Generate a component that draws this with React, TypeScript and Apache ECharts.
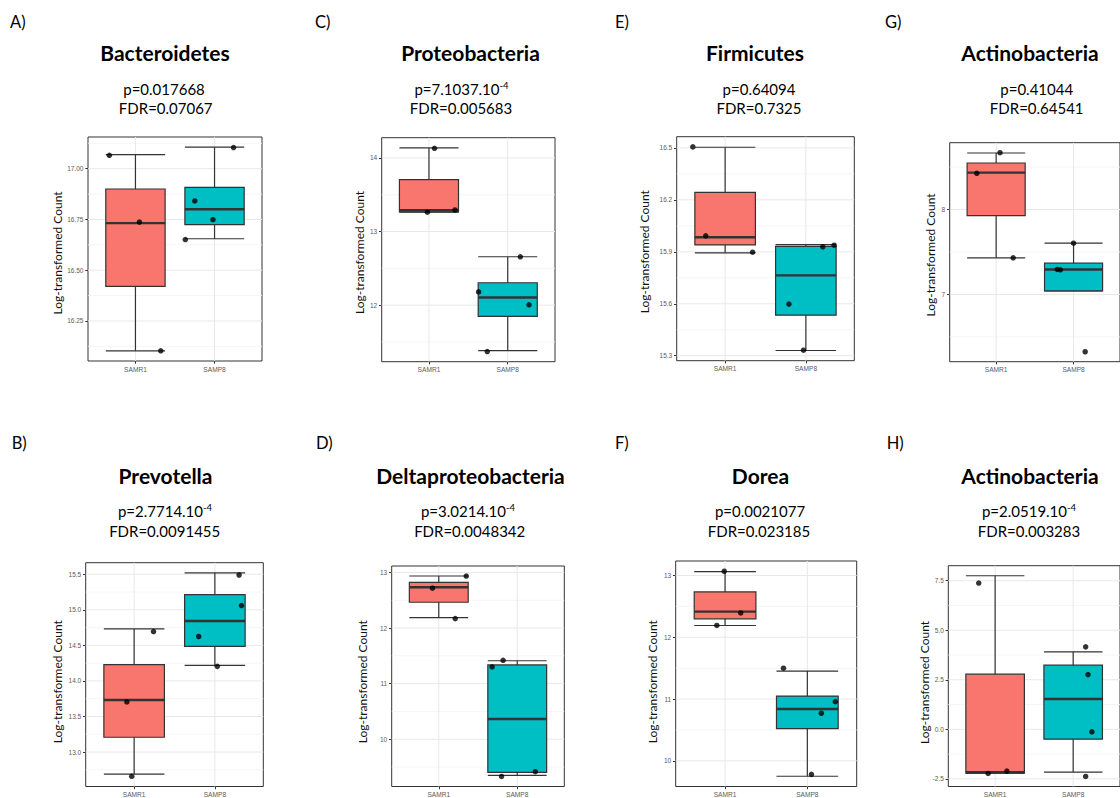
import React, { useEffect, useRef } from "react";
import * as echarts from "echarts";

const groups = ["SAMR1", "SAMP8"];
const groupFills = ["#F8766D", "#00BFC4"];
const panelLetters = ["A)", "B)", "C)", "D)", "E)", "F)", "G)", "H)"];
const taxa = ["Bacteroidetes", "Prevotella", "Proteobacteria", "Deltaproteobacteria", "Firmicutes", "Dorea", "Actinobacteria", "Actinobacteria"];
const pMantissa = ["p=0.017668", "p=2.7714.10", "p=7.1037.10", "p=3.0214.10", "p=0.64094", "p=0.0021077", "p=0.41044", "p=2.0519.10"];
const pExponent = ["", "-4", "-4", "-4", "", "", "", "-4"];
const fdrLabels = ["FDR=0.07067", "FDR=0.0091455", "FDR=0.005683", "FDR=0.0048342", "FDR=0.7325", "FDR=0.023185", "FDR=0.64541", "FDR=0.003283"];
const tickSteps = [0.25, 0.5, 1, 1, 0.3, 1, 1, 2.5];
const tickDecimals = [2, 1, 0, 0, 1, 0, 0, 1];
const yTitle = "Log-transformed Count";

// [lower whisker, Q1, median, Q3, upper whisker] for SAMR1 then SAMP8
const boxesA = [[16.103, 16.42, 16.732, 16.9, 17.069], [16.655, 16.725, 16.8, 16.908, 17.106]];
const boxesB = [[12.69, 13.208, 13.732, 14.228, 14.732], [14.218, 14.486, 14.843, 15.214, 15.52]];
const boxesC = [[13.262, 13.266, 13.289, 13.706, 14.136], [11.381, 11.847, 12.104, 12.304, 12.657]];
const boxesD = [[12.188, 12.464, 12.735, 12.823, 12.936], [9.35, 9.404, 10.363, 11.336, 11.412]];
const boxesE = [[15.894, 15.94, 15.984, 16.243, 16.504], [15.33, 15.534, 15.764, 15.931, 15.942]];
const boxesF = [[12.191, 12.298, 12.415, 12.734, 13.064], [9.75, 10.52, 10.84, 11.048, 11.453]];
const boxesG = [[7.431, 7.929, 8.435, 8.548, 8.666], [7.042, 7.042, 7.294, 7.368, 7.604]];
const boxesH = [[-2.21, -2.21, -2.166, 2.784, 7.75], [-2.16, -0.5, 1.53, 3.235, 3.912]];

// jittered observations [x position (1 = SAMR1, 2 = SAMP8), value]
const pointsA = [[0.67, 17.066], [1.05, 16.737], [1.32, 16.103], [2.24, 17.104], [1.75, 16.841], [1.98, 16.749], [1.63, 16.651]];
const pointsB = [[1.24, 14.695], [0.91, 13.704], [0.97, 12.658], [2.3, 15.49], [2.33, 15.06], [1.8, 14.625], [2.03, 14.205]];
const pointsC = [[1.07, 14.13], [0.98, 13.262], [1.33, 13.293], [2.16, 12.657], [1.63, 12.18], [2.27, 12.005], [1.74, 11.37]];
const pointsD = [[1.35, 12.936], [0.92, 12.717], [1.21, 12.17], [1.82, 11.42], [1.68, 11.3], [2.23, 9.416], [1.8, 9.33]];
const pointsE = [[0.6, 16.506], [0.76, 15.992], [1.34, 15.898], [2.21, 15.929], [2.35, 15.938], [1.79, 15.598], [1.97, 15.332]];
const pointsF = [[0.99, 13.069], [1.19, 12.394], [0.9, 12.191], [1.71, 11.5], [2.34, 10.958], [2.17, 10.77], [2.05, 9.78]];
const pointsG = [[1.05, 8.67], [0.75, 8.427], [1.22, 7.431], [2.0, 7.604], [1.79, 7.294], [1.83, 7.29], [2.15, 6.325]];
const pointsH = [[0.79, 7.38], [1.15, -2.11], [0.91, -2.23], [2.16, 4.16], [2.19, 2.76], [2.24, -0.13], [2.16, -2.38]];

const panelBoxes = [boxesA, boxesB, boxesC, boxesD, boxesE, boxesF, boxesG, boxesH];
const panelPoints = [pointsA, pointsB, pointsC, pointsD, pointsE, pointsF, pointsG, pointsH];

// layout: plot rectangle [left, top, width, height]
const plotRects = [
  [88, 137, 174, 224],
  [85.7, 562.7, 177.6, 225.6],
  [381.7, 137.7, 173.3, 224],
  [391.7, 566, 172.6, 223.3],
  [676.7, 136.7, 177.6, 224],
  [675.7, 561, 181, 228],
  [949.7, 142.7, 174.5, 219],
  [948.3, 565.7, 177.5, 222.6],
];
// text layout: [labelX, labelY, titleX, titleY, pX, pY, fdrX, fdrY, yTitleX, yTitleY]
const textPos = [
  [10, 21.5, 165, 52, 164, 89, 165.7, 107.5, 57.3, 253],
  [11.7, 443, 165.5, 475.5, 165, 511, 164.7, 531, 57.3, 681.7],
  [315, 21.5, 470.5, 52, 461.5, 89, 461, 107.5, 359, 252.5],
  [316, 443, 470.5, 475.5, 468, 511, 469.7, 531, 362.7, 681.7],
  [615, 21.5, 755, 52, 759, 89, 759, 107.5, 644, 251.7],
  [615, 443, 760.5, 475.5, 760, 511, 759, 531, 652.7, 681.7],
  [885, 21.5, 1030, 52, 1036.7, 89, 1036.7, 107.5, 930.7, 255],
  [886.7, 443, 1030, 475.5, 1029, 511, 1029, 531, 924, 682.5],
];

const FONT = "Lato, 'Open Sans', sans-serif";
const TICK_FONT = "'Liberation Sans', Arial, sans-serif";
const INK = "#333333";

function rnd(v: number) {
  return parseFloat(v.toFixed(6));
}

function paddedRange(boxes: number[][], points: number[][]) {
  const vals = [...boxes.flat(), ...points.map((p) => p[1])];
  const lo = Math.min(...vals);
  const hi = Math.max(...vals);
  const pad = (hi - lo) * 0.05;
  return [lo - pad, hi + pad];
}

function breaks(min: number, max: number, step: number) {
  const major: number[] = [];
  const minor: number[] = [];
  for (let k = Math.ceil(min / step - 0.5); k <= Math.floor(max / step + 0.5); k++) {
    const v = rnd(k * step);
    if (v >= min && v <= max) major.push(v);
    const m = rnd((k + 0.5) * step);
    if (m >= min && m <= max) minor.push(m);
  }
  const m0 = rnd((Math.ceil(min / step - 0.5) - 0.5) * step);
  if (m0 >= min && m0 <= max) minor.push(m0);
  return { major, minor };
}

const renderGridLines = (params: any, api: any) => {
  const cs = params.coordSys;
  const kind = api.value(2);
  if (kind === 2) {
    const x = api.coord([api.value(0), api.value(1)])[0];
    return {
      type: "line",
      shape: { x1: x, y1: cs.y, x2: x, y2: cs.y + cs.height },
      style: { stroke: "#E8E8E8", lineWidth: 1 },
    };
  }
  const y = api.coord([api.value(0), api.value(1)])[1];
  return {
    type: "line",
    shape: { x1: cs.x, y1: y, x2: cs.x + cs.width, y2: y },
    style: { stroke: kind === 0 ? "#E8E8E8" : "#F3F3F3", lineWidth: kind === 0 ? 1 : 0.8 },
  };
};

const renderBox = (params: any, api: any) => {
  const x = api.value(0);
  const lo = api.value(1);
  const q1 = api.value(2);
  const med = api.value(3);
  const q3 = api.value(4);
  const hi = api.value(5);
  const half = 0.375;
  const xl = api.coord([x - half, lo])[0];
  const xr = api.coord([x + half, lo])[0];
  const xc = api.coord([x, lo])[0];
  const yLo = api.coord([x, lo])[1];
  const yQ1 = api.coord([x, q1])[1];
  const yMed = api.coord([x, med])[1];
  const yQ3 = api.coord([x, q3])[1];
  const yHi = api.coord([x, hi])[1];
  const line = { stroke: INK, lineWidth: 1.2 };
  return {
    type: "group",
    children: [
      { type: "line", shape: { x1: xc, y1: yLo, x2: xc, y2: yHi }, style: line },
      { type: "line", shape: { x1: xl, y1: yLo, x2: xr, y2: yLo }, style: line },
      { type: "line", shape: { x1: xl, y1: yHi, x2: xr, y2: yHi }, style: line },
      {
        type: "rect",
        shape: { x: xl, y: yQ3, width: xr - xl, height: yQ1 - yQ3 },
        style: { fill: groupFills[params.dataIndex], stroke: INK, lineWidth: 1.2 },
      },
      { type: "line", shape: { x1: xl, y1: yMed, x2: xr, y2: yMed }, style: { stroke: INK, lineWidth: 2.4 } },
    ],
  };
};

function buildOption() {
  const grid: any[] = [];
  const xAxis: any[] = [];
  const yAxis: any[] = [];
  const series: any[] = [];
  const graphic: any[] = [];

  for (let i = 0; i < 8; i++) {
    const [left, top, width, height] = plotRects[i];
    const [ymin, ymax] = paddedRange(panelBoxes[i], panelPoints[i]);
    const { major, minor } = breaks(ymin, ymax, tickSteps[i]);
    const dec = tickDecimals[i];

    grid.push({
      left, top, width, height,
      show: true,
      borderColor: INK,
      borderWidth: 1,
      backgroundColor: "#ffffff",
      containLabel: false,
    });
    xAxis.push({
      type: "value",
      gridIndex: i,
      min: 0.4,
      max: 2.6,
      axisLine: { show: false },
      splitLine: { show: false },
      axisTick: { show: true, customValues: [1, 2], length: 2.7, lineStyle: { color: INK, width: 1 } },
      axisLabel: {
        customValues: [1, 2],
        formatter: (v: number) => groups[Math.round(v) - 1] ?? "",
        fontSize: 6.6,
        fontFamily: TICK_FONT,
        color: "#5a5a5a",
        margin: 4.5,
      },
    });
    yAxis.push({
      type: "value",
      gridIndex: i,
      min: ymin,
      max: ymax,
      axisLine: { show: false },
      splitLine: { show: false },
      axisTick: { show: true, customValues: major, length: 2.7, lineStyle: { color: INK, width: 1 } },
      axisLabel: {
        customValues: major,
        formatter: (v: number) => v.toFixed(dec),
        fontSize: 6.5,
        fontFamily: TICK_FONT,
        color: "#5a5a5a",
        margin: 4.5,
      },
    });

    const gridData: number[][] = [];
    major.forEach((v) => gridData.push([1.5, v, 0]));
    minor.forEach((v) => gridData.push([1.5, v, 1]));
    [1, 2].forEach((c) => gridData.push([c, (ymin + ymax) / 2, 2]));

    series.push({
      type: "custom",
      xAxisIndex: i,
      yAxisIndex: i,
      renderItem: renderGridLines,
      data: gridData,
      encode: { x: 0, y: 1 },
      silent: true,
      z: 1,
    });
    series.push({
      type: "custom",
      xAxisIndex: i,
      yAxisIndex: i,
      renderItem: renderBox,
      data: panelBoxes[i].map((b, g) => [g + 1, ...b]),
      encode: { x: 0, y: [1, 2, 3, 4, 5] },
      z: 2,
    });
    series.push({
      type: "scatter",
      xAxisIndex: i,
      yAxisIndex: i,
      data: panelPoints[i],
      symbolSize: 5.5,
      itemStyle: { color: "#000000" },
      z: 3,
    });

    const [lx, ly, tx, ty, px, py, fx, fy, yx, yy] = textPos[i];
    graphic.push({
      type: "text", x: lx, y: ly,
      style: { text: panelLetters[i], fontSize: 16.5, fontFamily: FONT, fill: "#000", align: "left", verticalAlign: "middle" },
    });
    graphic.push({
      type: "text", x: tx, y: ty,
      style: { text: taxa[i], fontSize: 21, fontWeight: "bold", fontFamily: FONT, fill: "#000", align: "center", verticalAlign: "middle" },
    });
    graphic.push({
      type: "text", x: px, y: py,
      style: {
        text: pExponent[i] ? `{m|${pMantissa[i]}}{e|${pExponent[i]}}` : `{m|${pMantissa[i]}}`,
        align: "center",
        verticalAlign: "middle",
        fill: "#000",
        rich: {
          m: { fontSize: 15, fontFamily: FONT, fill: "#000", lineHeight: 18 },
          e: { fontSize: 9.5, fontFamily: FONT, fill: "#000", verticalAlign: "top", lineHeight: 11 },
        },
      },
    });
    graphic.push({
      type: "text", x: fx, y: fy,
      style: { text: fdrLabels[i], fontSize: 15, fontFamily: FONT, fill: "#000", align: "center", verticalAlign: "middle" },
    });
    graphic.push({
      type: "text", x: yx, y: yy, rotation: Math.PI / 2,
      style: { text: yTitle, fontSize: 12, fontFamily: FONT, fill: "#111", align: "center", verticalAlign: "middle" },
    });
  }

  return {
    animation: false,
    backgroundColor: "#ffffff",
    grid,
    xAxis,
    yAxis,
    series,
    graphic,
  };
}

export default function App() {
  const ref = useRef<HTMLDivElement>(null);
  useEffect(() => {
    if (!ref.current) return;
    const chart = echarts.init(ref.current, undefined, { renderer: "svg" });
    chart.setOption(buildOption() as any);
    return () => chart.dispose();
  }, []);
  return (
    <div
      ref={ref}
      style={{ position: "absolute", left: 0, top: 0, width: 1120, height: 798, background: "#fff" }}
    />
  );
}
